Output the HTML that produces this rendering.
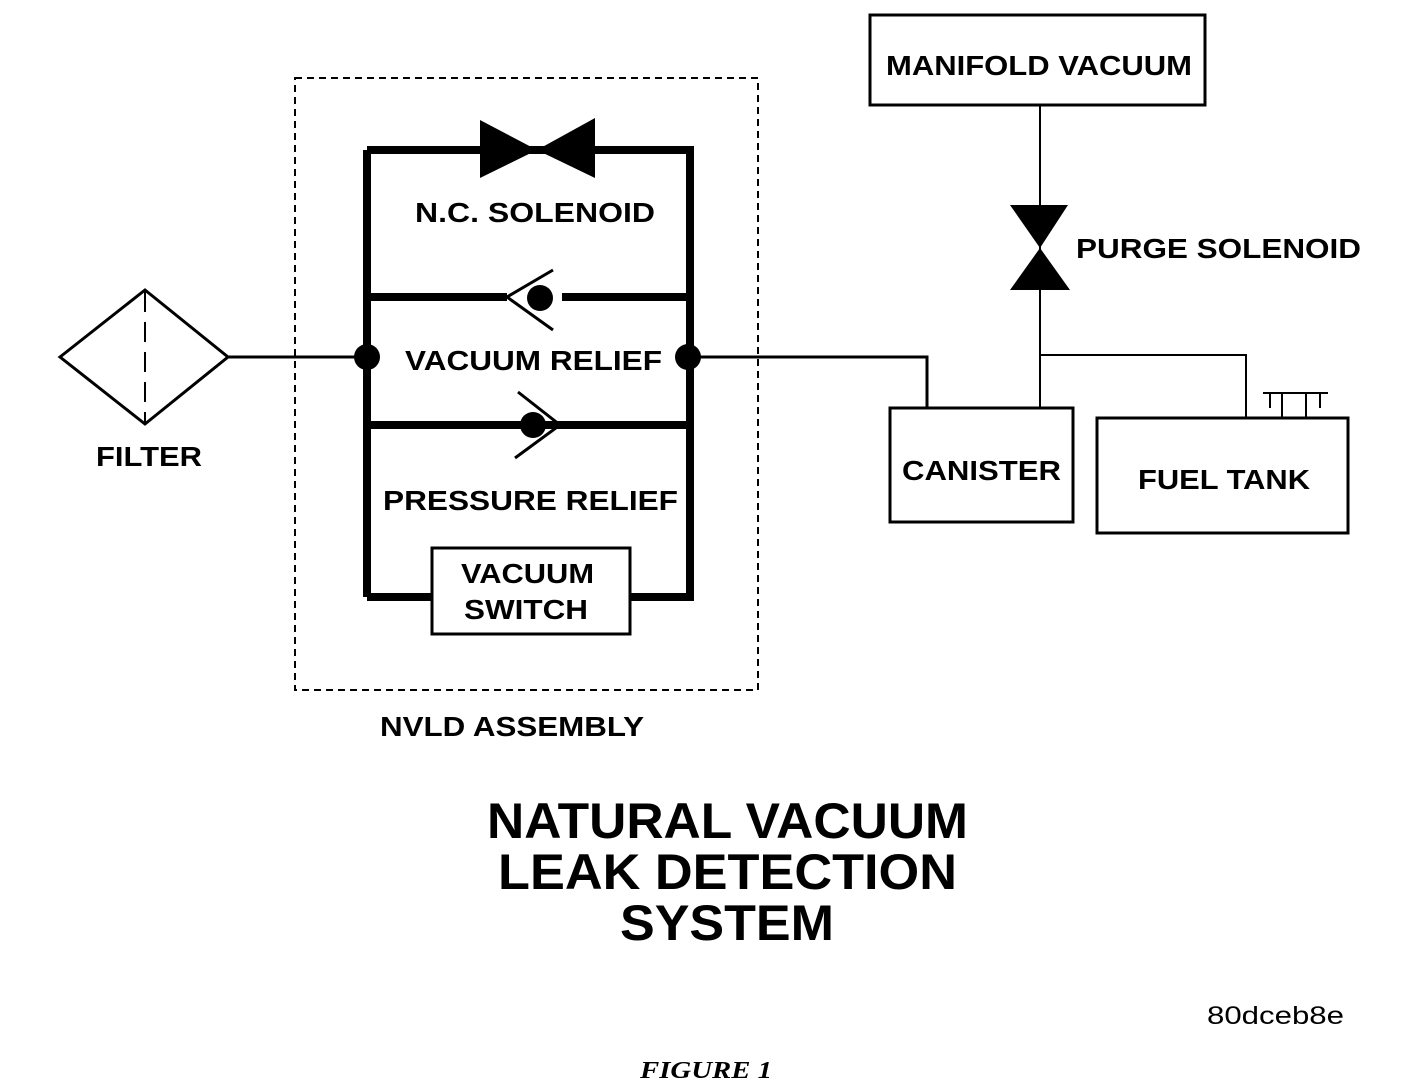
<!DOCTYPE html>
<html><head><style>body{margin:0;background:#fff}svg{display:block}</style></head><body>
<svg width="1408" height="1092" viewBox="0 0 1408 1092" xmlns="http://www.w3.org/2000/svg">
<g fill="none" stroke="#000">
<polygon points="60,357 145,290 228,357 145,424" stroke-width="3"/>
<line x1="145" y1="292" x2="145" y2="422" stroke-width="2" stroke-dasharray="20,10"/>
<line x1="228" y1="357" x2="367" y2="357" stroke-width="3"/>
<rect x="295" y="78" width="463" height="612" stroke-width="2" stroke-dasharray="7,5"/>
<path d="M367,150 H690 V597 H630 M432,597 H367 Z" stroke-width="8"/>
<line x1="367" y1="150" x2="367" y2="597" stroke-width="8"/>
<line x1="367" y1="297" x2="507" y2="297" stroke-width="8"/>
<line x1="562" y1="297" x2="690" y2="297" stroke-width="8"/>
<path d="M553,270 L507,297 L553,330" stroke-width="3"/>
<line x1="367" y1="425" x2="560" y2="425" stroke-width="8"/>
<line x1="560" y1="425" x2="690" y2="425" stroke-width="8"/>
<path d="M518,392 L560,425 L515,458" stroke-width="3"/>
<rect x="432" y="548" width="198" height="86" stroke-width="3"/>
<path d="M690,357 H927 V408" stroke-width="3"/>
<rect x="890" y="408" width="183" height="114" stroke-width="3"/>
<rect x="1097" y="418" width="251" height="115" stroke-width="3"/>
<rect x="870" y="15" width="335" height="90" stroke-width="3"/>
<line x1="1040" y1="105" x2="1040" y2="408" stroke-width="2"/>
<path d="M1040,355 H1246 V418" stroke-width="2"/>
<path d="M1263,393 H1328 M1270,393 V408 M1282,393 V418 M1306,393 V418 M1320,393 V408" stroke-width="2"/>
</g>
<g fill="#000">
<polygon points="480,120 480,178 537,150"/>
<polygon points="595,118 595,178 537,150"/>
<circle cx="540" cy="298" r="13"/>
<circle cx="533" cy="425" r="13"/>
<circle cx="367" cy="357" r="13"/>
<circle cx="688" cy="357" r="13"/>
<polygon points="1010,205 1068,205 1040,248"/>
<polygon points="1040,248 1010,290 1070,290"/>
</g>
<g font-family="Liberation Sans, sans-serif" font-weight="bold" fill="#000" font-size="28" lengthAdjust="spacingAndGlyphs">
<text x="415" y="222" textLength="240" lengthAdjust="spacingAndGlyphs">N.C. SOLENOID</text>
<text x="405" y="370" textLength="257" lengthAdjust="spacingAndGlyphs">VACUUM RELIEF</text>
<text x="383" y="510" textLength="295" lengthAdjust="spacingAndGlyphs">PRESSURE RELIEF</text>
<text x="461" y="583" textLength="133" lengthAdjust="spacingAndGlyphs">VACUUM</text>
<text x="464" y="619" textLength="124" lengthAdjust="spacingAndGlyphs">SWITCH</text>
<text x="96" y="466" textLength="106" lengthAdjust="spacingAndGlyphs">FILTER</text>
<text x="380" y="736" textLength="264" lengthAdjust="spacingAndGlyphs">NVLD ASSEMBLY</text>
<text x="886" y="75" textLength="306" lengthAdjust="spacingAndGlyphs">MANIFOLD VACUUM</text>
<text x="1076" y="258" textLength="285" lengthAdjust="spacingAndGlyphs">PURGE SOLENOID</text>
<text x="902" y="480" textLength="159" lengthAdjust="spacingAndGlyphs">CANISTER</text>
<text x="1138" y="489" textLength="172" lengthAdjust="spacingAndGlyphs">FUEL TANK</text>
<text x="487" y="838" font-size="50" textLength="481" lengthAdjust="spacingAndGlyphs">NATURAL VACUUM</text>
<text x="498" y="889" font-size="50" textLength="459" lengthAdjust="spacingAndGlyphs">LEAK DETECTION</text>
<text x="620" y="940" font-size="50" textLength="214" lengthAdjust="spacingAndGlyphs">SYSTEM</text>
<text x="1207" y="1024" font-size="25" font-weight="normal" textLength="137" lengthAdjust="spacingAndGlyphs">80dceb8e</text>
<text x="640" y="1078" font-size="24" font-family="Liberation Serif, serif" font-style="italic" textLength="132" lengthAdjust="spacingAndGlyphs">FIGURE 1</text>
</g>
</svg>
</body></html>
